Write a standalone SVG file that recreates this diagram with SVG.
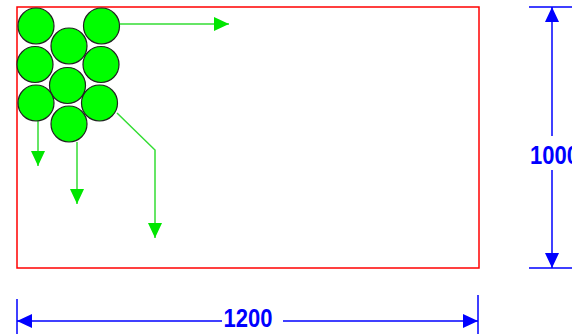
<svg xmlns="http://www.w3.org/2000/svg" width="572" height="334" viewBox="0 0 572 334">
<defs>
<marker id="ga" viewBox="0 0 15 14" refX="15" refY="7" markerWidth="15" markerHeight="14" markerUnits="userSpaceOnUse" orient="auto"><path d="M0,0 L15,7 L0,14 Z" fill="#00e600"/></marker>
<marker id="ba" viewBox="0 0 15 14" refX="15" refY="7" markerWidth="15" markerHeight="14" markerUnits="userSpaceOnUse" orient="auto"><path d="M0,0 L15,7 L0,14 Z" fill="#0000ff"/></marker>
</defs>
<style>
.c{fill:#00ff00;stroke:#222;stroke-width:1.2}
.g{fill:none;stroke:#33dd33;stroke-width:1.5;marker-end:url(#ga)}
.d{fill:none;stroke:#0000ff;stroke-width:1.5}
.t{font-family:"Liberation Sans",Arial,sans-serif;font-weight:bold;font-size:22px;fill:#0000ff}
</style>
<rect id="plate" x="17" y="7" width="462" height="261" fill="none" stroke="#ff0000" stroke-width="1.5"/>
<g id="connectors">
<path class="g" d="M120,24 H229"/>
<path class="g" d="M38,121 V166"/>
<path class="g" d="M77,142 V204"/>
<path class="g" d="M117,113 L155,150 V238"/>
</g>
<g id="circle1"><circle class="c" cx="36" cy="26" r="18"/></g>
<g id="circle2"><circle class="c" cx="101.5" cy="26" r="18"/></g>
<g id="circle3"><circle class="c" cx="69" cy="46" r="18"/></g>
<g id="circle4"><circle class="c" cx="35" cy="64.5" r="18"/></g>
<g id="circle5"><circle class="c" cx="101" cy="64.5" r="18"/></g>
<g id="circle6"><circle class="c" cx="67.5" cy="85.5" r="18"/></g>
<g id="circle7"><circle class="c" cx="36" cy="103" r="18"/></g>
<g id="circle8"><circle class="c" cx="99.5" cy="103" r="18"/></g>
<g id="circle9"><circle class="c" cx="69" cy="124" r="18"/></g>
<g id="dim-height">
<path class="d" d="M529,7 H572 M529,268 H572"/>
<path class="d" d="M552,136 V7" marker-end="url(#ba)"/>
<path class="d" d="M552,170 V268" marker-end="url(#ba)"/>
<text class="t" transform="translate(530,164) scale(1,1.15)" x="0" y="0">1000</text>
</g>
<g id="dim-width">
<path class="d" d="M17,299 V334 M478,295 V334"/>
<path class="d" d="M222,321 H17" marker-end="url(#ba)"/>
<path class="d" d="M283,321 H478" marker-end="url(#ba)"/>
<text class="t" transform="translate(248,327) scale(1,1.15)" x="0" y="0" text-anchor="middle">1200</text>
</g>
</svg>
